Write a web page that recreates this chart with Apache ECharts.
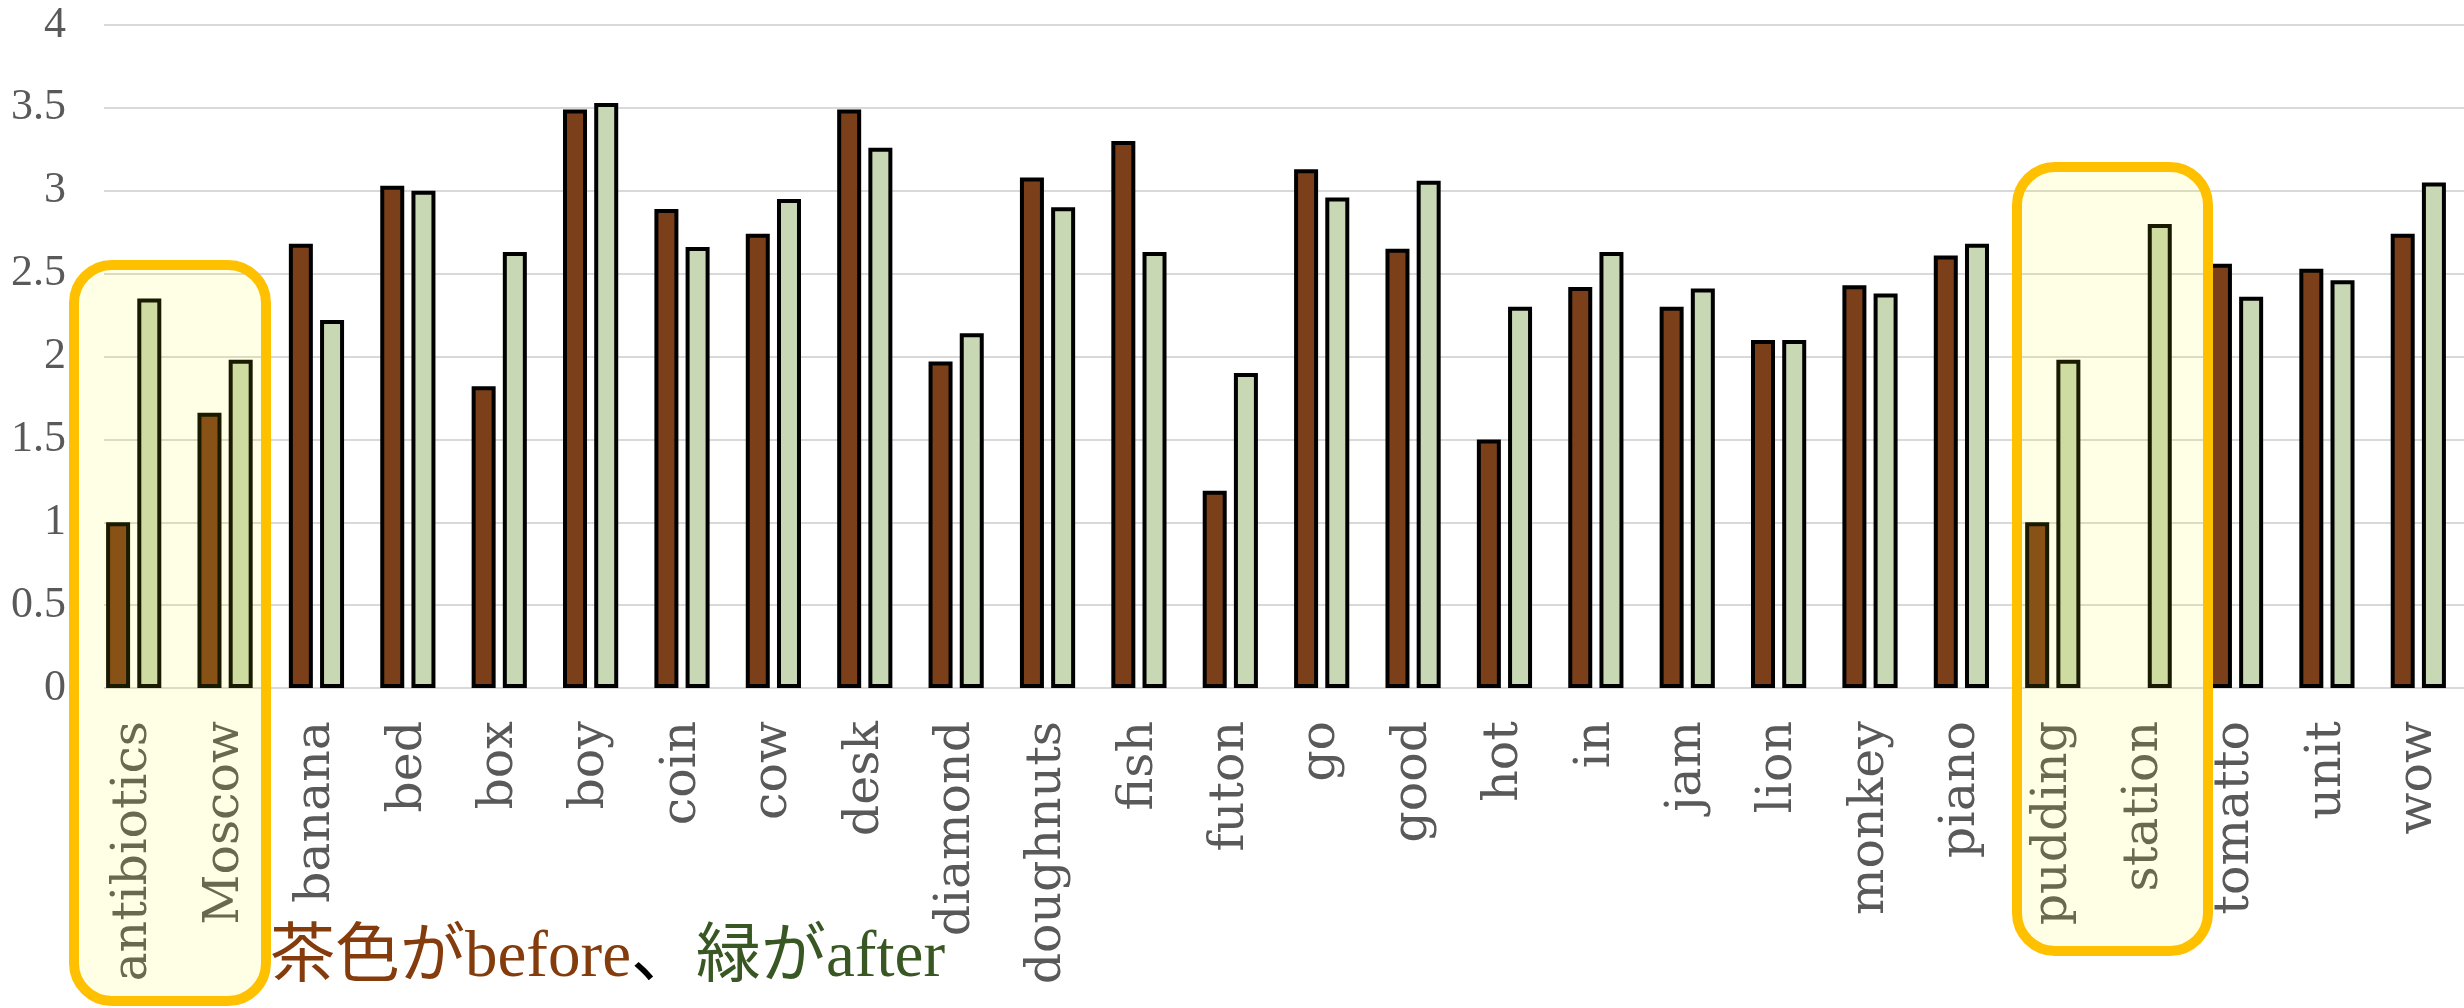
<!DOCTYPE html>
<html>
<head>
<meta charset="utf-8">
<script src="https://cdn.jsdelivr.net/npm/echarts@6/dist/echarts.min.js"></script>
<style>
  html, body { margin: 0; padding: 0; background: #ffffff; }
  #chart { width: 2464px; height: 1008px; }
</style>
</head>
<body>
<div id="chart"></div>
<script>
// Words rated before and after, two bars per word
const categories = ['antibiotics', 'Moscow', 'banana', 'bed', 'box', 'boy', 'coin', 'cow', 'desk',
  'diamond', 'doughnuts', 'fish', 'futon', 'go', 'good', 'hot', 'in', 'jam', 'lion', 'monkey',
  'piano', 'pudding', 'station', 'tomatto', 'unit', 'wow'];
const beforeValues = [1.00, 1.66, 2.68, 3.03, 1.82, 3.49, 2.89, 2.74, 3.49, 1.97, 3.08, 3.30, 1.19,
  3.13, 2.65, 1.50, 2.42, 2.30, 2.10, 2.43, 2.61, 1.00, null, 2.56, 2.53, 2.74];
const afterValues = [2.35, 1.98, 2.22, 3.00, 2.63, 3.53, 2.66, 2.95, 3.26, 2.14, 2.90, 2.63, 1.90,
  2.96, 3.06, 2.30, 2.63, 2.41, 2.10, 2.38, 2.68, 1.98, 2.80, 2.36, 2.46, 3.05];
const yTicks = [0, 0.5, 1, 1.5, 2, 2.5, 3, 3.5, 4];
const noteText = ['茶色が', 'before', '、', '緑が', 'after'];

const yMin = yTicks[0];
const yMax = yTicks[yTicks.length - 1];
const yStep = yTicks[1] - yTicks[0];

const plotTop = 25;
const plotHeight = 663;
const serif = '"Liberation Serif", "Noto Sans CJK JP", serif';

const chart = echarts.init(document.getElementById('chart'), null, { renderer: 'canvas' });

const option = {
  animation: false,
  backgroundColor: '#ffffff',
  grid: [
    // gridlines and value labels
    { left: 104, right: 0, top: plotTop, height: plotHeight },
    // bars and word labels
    { left: 88, width: 2390, top: plotTop, height: plotHeight }
  ],
  xAxis: [
    { type: 'value', gridIndex: 0, show: false, min: 0, max: 1 },
    {
      type: 'category', gridIndex: 1, data: categories, boundaryGap: true,
      axisLine: { show: false }, axisTick: { show: false },
      axisLabel: {
        interval: 0, rotate: 90, margin: 33,
        fontFamily: '"DejaVu Serif", serif', fontSize: 49, color: '#595959'
      }
    }
  ],
  yAxis: [
    {
      type: 'value', gridIndex: 0, min: yMin, max: yMax, interval: yStep,
      axisLine: { show: false }, axisTick: { show: false },
      splitLine: { lineStyle: { color: '#D9D9D9', width: 2 } },
      axisLabel: { margin: 38, fontFamily: serif, fontSize: 44, color: '#595959' }
    },
    { type: 'value', gridIndex: 1, min: yMin, max: yMax, interval: yStep, show: false }
  ],
  series: [
    {
      name: 'before', type: 'bar', xAxisIndex: 1, yAxisIndex: 1,
      data: beforeValues, barWidth: 24, barGap: '30%',
      itemStyle: { color: '#7B3F1A', borderColor: '#000000', borderWidth: 4 }
    },
    {
      name: 'after', type: 'bar', xAxisIndex: 1, yAxisIndex: 1,
      data: afterValues, barWidth: 24, barGap: '30%',
      itemStyle: { color: '#C9D8B4', borderColor: '#000000', borderWidth: 4 }
    }
  ],
  graphic: [
    // highlight frames around the two word groups
    {
      type: 'rect', z: 100,
      shape: { x: 74, y: 265, width: 192, height: 736, r: 38 },
      style: { fill: 'rgba(255,255,0,0.10)', stroke: '#FFC000', lineWidth: 10 }
    },
    {
      type: 'rect', z: 100,
      shape: { x: 2017, y: 167, width: 191, height: 784, r: 38 },
      style: { fill: 'rgba(255,255,0,0.10)', stroke: '#FFC000', lineWidth: 10 }
    },
    // colour note under the axis
    {
      type: 'text', z: 110, left: 270, top: 926,
      style: {
        text: '{a|' + noteText[0] + noteText[1] + '}{b|' + noteText[2] + '}{c|' + noteText[3] + noteText[4] + '}',
        rich: {
          a: { fontFamily: serif, fontSize: 65, fill: '#843C0C', lineHeight: 74 },
          b: { fontFamily: serif, fontSize: 65, fill: '#000000', lineHeight: 74 },
          c: { fontFamily: serif, fontSize: 65, fill: '#385723', lineHeight: 74 }
        }
      }
    }
  ]
};

chart.setOption(option);
</script>
</body>
</html>
